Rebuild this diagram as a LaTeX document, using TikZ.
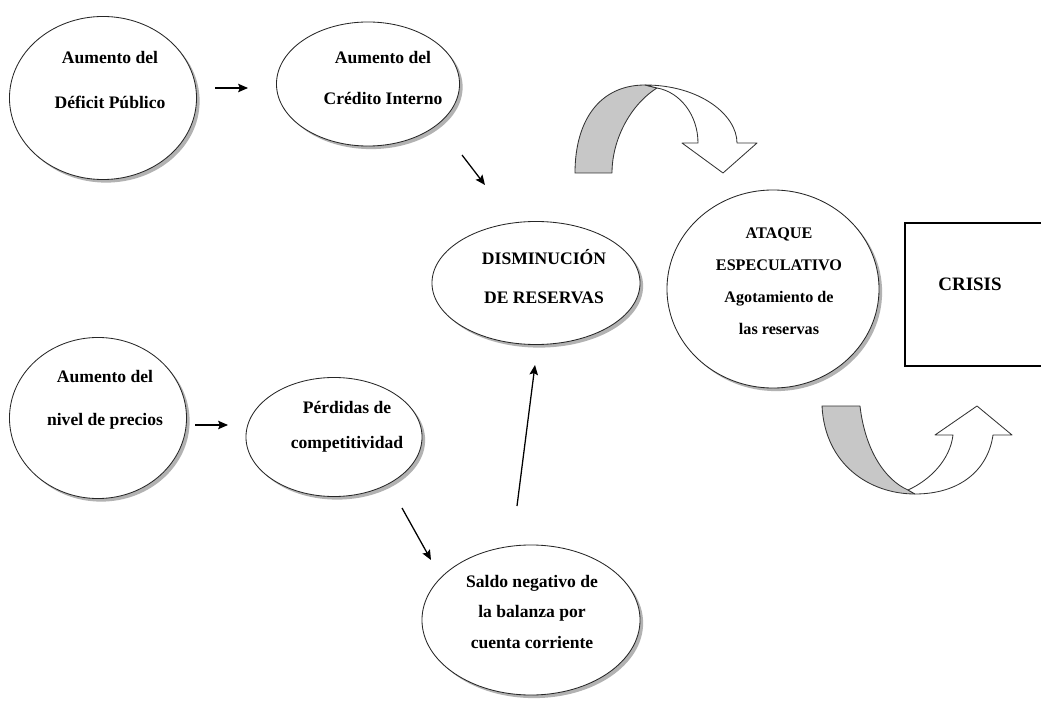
\documentclass[tikz,border=0pt]{standalone}
\usepackage{fontspec}
\setmainfont{Liberation Serif}
\usetikzlibrary{shapes.geometric, shadows, arrows.meta}

\begin{document}
\begin{tikzpicture}[x=0.025cm, y=-0.025cm,
			burbuja/.style={ellipse, draw=black!85, line width=0.6pt, fill=white, inner sep=0pt,
				drop shadow={shadow xshift=2.2pt, shadow yshift=-2.2pt, fill=black!60}},
			texto/.style={font=\bfseries\fontsize{12.5}{#1}\selectfont, align=center},
			flecha/.style={-{Stealth[length=7pt, width=6pt, inset=1.2pt]}, line width=0.9pt},
			cinta/.style={draw=black!80, line width=0.6pt, line join=round}]

			\clip (0,0) rectangle (1041,702);

			% fila de arriba
			\node[burbuja, minimum width=4.675cm, minimum height=4.075cm,
				label={[texto=32pt, shift={(7,-18)}]center:Aumento del\\Déficit Público}] (deficit) at (103,98) {};
			\node[burbuja, minimum width=4.575cm, minimum height=3.1cm,
				label={[texto=29.8pt, shift={(15,-6)}]center:Aumento del\\Crédito Interno}] (credito) at (368,84) {};

			% centro
			\node[burbuja, minimum width=5.2cm, minimum height=3.075cm,
				label={[texto=27.7pt, shift={(8,-6)}]center:DISMINUCIÓN\\DE RESERVAS}] (disminucion) at (536,283) {};
			\node[burbuja, minimum width=5.3cm, minimum height=4.95cm,
				label={[texto=22.7pt, font=\bfseries\fontsize{11.5}{22.7}\selectfont, shift={(6,-8)}]center:ATAQUE\\ESPECULATIVO\\Agotamiento de\\las reservas}] (ataque) at (773,289) {};
			\node[draw, line width=2.1pt, minimum width=3.45cm, minimum height=3.575cm,
				label={[font=\bfseries\fontsize{13.5}{16}\selectfont, shift={(-4,-10)}]center:CRISIS}] (crisis) at (974,294.5) {};

			% fila de abajo
			\node[burbuja, minimum width=4.425cm, minimum height=4.025cm,
				label={[texto=30.5pt, shift={(7,-18)}]center:Aumento del\\nivel de precios}] (nivel) at (98,418) {};
			\node[burbuja, minimum width=4.4cm, minimum height=2.975cm,
				label={[texto=24.8pt, shift={(13,-10)}]center:Pérdidas de\\competitividad}] (perdidas) at (334,437) {};
			\node[burbuja, minimum width=5.45cm, minimum height=3.75cm,
				label={[texto=22pt, shift={(1,-8)}]center:Saldo negativo de\\la balanza por\\cuenta corriente}] (saldo) at (531,620) {};

			% flechas
			\coordinate (f1a) at (215,88);
			\coordinate (f1b) at (248,88);
			\coordinate (f2a) at (462,155);
			\coordinate (f2b) at (485,185);
			\coordinate (f3a) at (195,425);
			\coordinate (f3b) at (228,425);
			\coordinate (f4a) at (402,508);
			\coordinate (f4b) at (431,560);
			\coordinate (f5a) at (517,506);
			\coordinate (f5b) at (535,365);
			\draw[flecha] (f1a) -- (f1b);
			\draw[flecha] (f2a) -- (f2b);
			\draw[flecha] (f3a) -- (f3b);
			\draw[flecha] (f4a) -- (f4b);
			\draw[flecha] (f5a) -- (f5b);

			% flecha curva de arriba
			\draw[cinta, fill=black!22] (575,173) .. controls (575,120) and (600,85) .. (645,85)
				-- (657,88) .. controls (630,105) and (612,140) .. (612,173) -- cycle;
			\draw[cinta, fill=white] (645,85) .. controls (700,85) and (737,115) .. (737,143)
				-- (757,143) -- (723,173) -- (682,143) -- (698,143)
				.. controls (698,115) and (680,92) .. (657,88) -- cycle;

			% flecha curva de abajo
			\draw[cinta, fill=black!22] (822,406) -- (860,406) .. controls (865,450) and (885,480) .. (908,490)
				-- (915,494) .. controls (870,494) and (825,465) .. (822,406) -- cycle;
			\draw[cinta, fill=white] (908,490) .. controls (930,480) and (950,460) .. (953,435)
				-- (935,435) -- (977,406) -- (1012,435) -- (993,435)
				.. controls (988,470) and (960,494) .. (915,494) -- cycle;
		\end{tikzpicture}
\end{document}
